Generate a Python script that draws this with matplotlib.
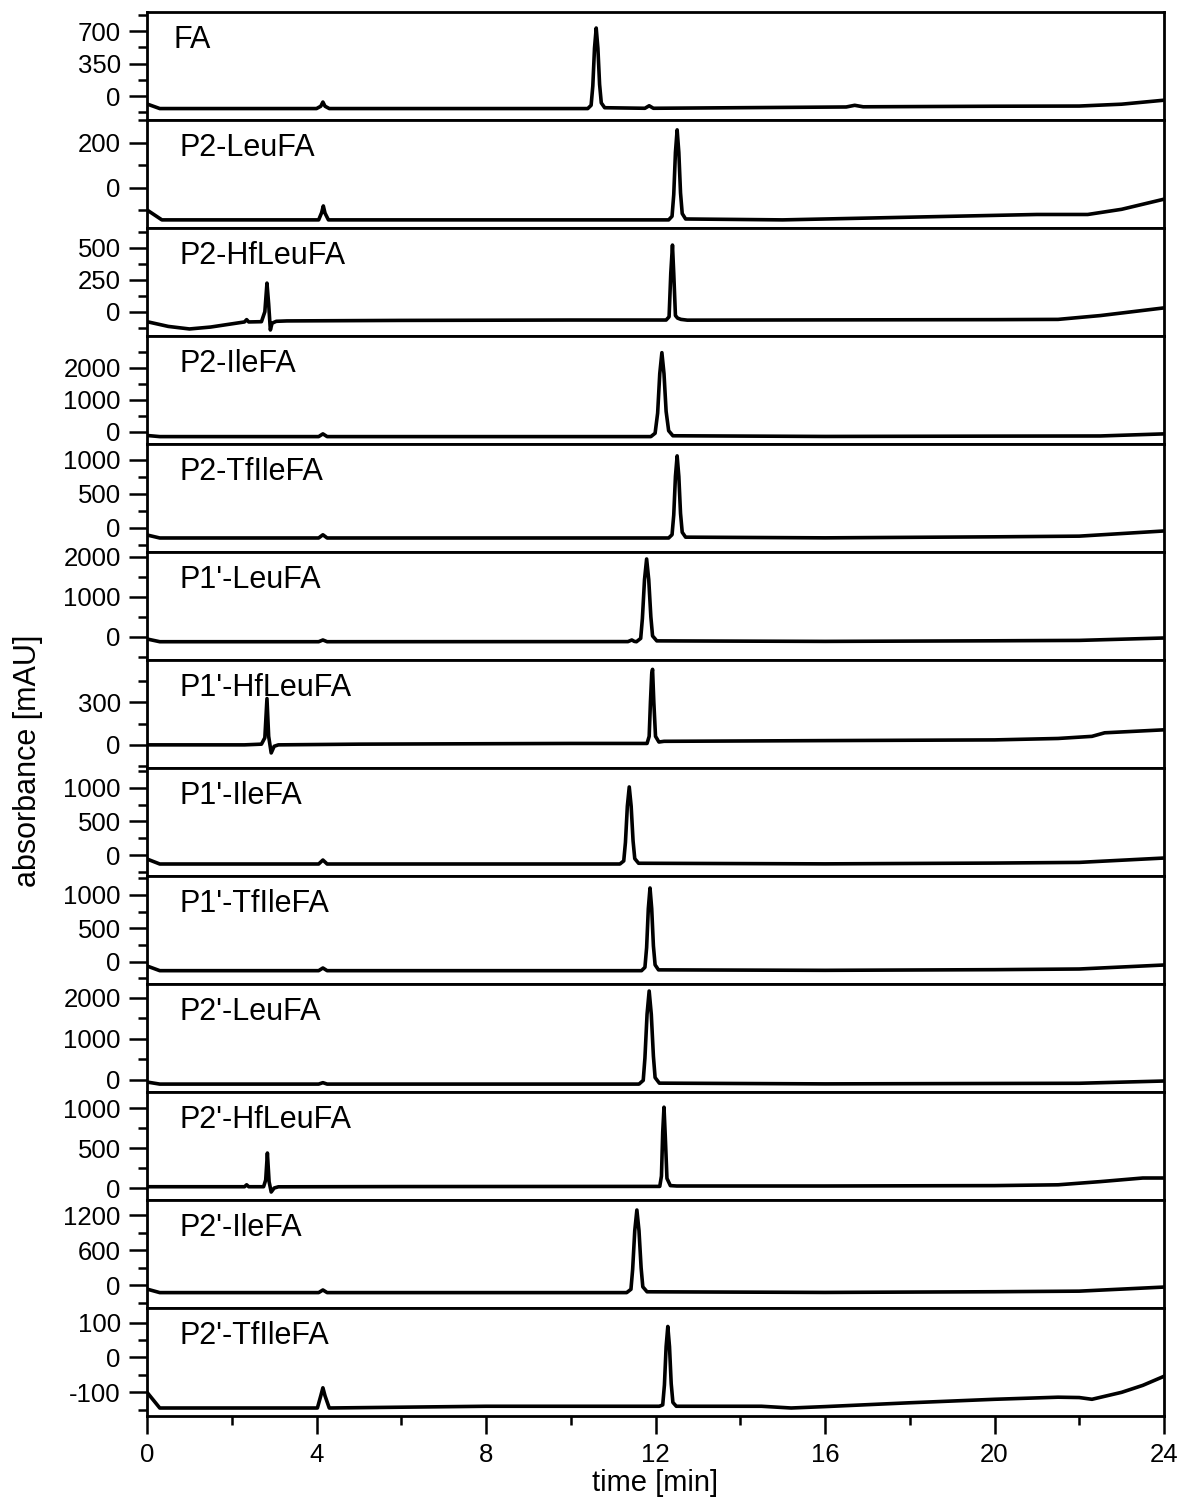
import matplotlib

matplotlib.use("Agg")
import matplotlib.pyplot as plt
from matplotlib.ticker import MultipleLocator

plt.rcParams["font.family"] = ["Liberation Sans", "DejaVu Sans"]
plt.rcParams["axes.unicode_minus"] = False

LABELS = [
    "FA", "P2-LeuFA", "P2-HfLeuFA", "P2-IleFA", "P2-TfIleFA",
    "P1'-LeuFA", "P1'-HfLeuFA", "P1'-IleFA", "P1'-TfIleFA",
    "P2'-LeuFA", "P2'-HfLeuFA", "P2'-IleFA", "P2'-TfIleFA",
]

# time [min] / absorbance [mAU]
FA_T = [0, 0.3, 4.0, 4.1, 4.15, 4.2, 4.3, 10.4, 10.48, 10.52, 10.56, 10.6, 10.64, 10.68,
        10.72, 10.8, 11.75, 11.85, 11.95, 16.5, 16.7, 16.9, 20.0, 22.0, 23.0, 24.0]
FA_A = [-86, -135, -135, -110, -65, -110, -135, -135, -100, 108, 515, 732, 515, 125,
        -74, -126, -132, -105, -132, -118, -100, -116, -110, -108, -88, -45]

LEU_T = [0, 0.35, 4.05, 4.12, 4.16, 4.2, 4.28, 12.31, 12.39, 12.43, 12.47, 12.51, 12.55,
         12.59, 12.63, 12.71, 15.0, 18.0, 21.0, 22.2, 23.0, 24.0]
LEU_A = [-98, -142, -142, -110, -80, -112, -142, -142, -126, -30, 158, 258, 158,
         -22, -114, -138, -142, -130, -118, -118, -95, -50]

HFLEU_T = [0, 0.5, 1.0, 1.5, 2.0, 2.3, 2.35, 2.4, 2.7, 2.78, 2.83, 2.87, 2.91, 2.95, 3.05,
           3.3, 6.0, 10.0, 12.25, 12.32, 12.36, 12.40, 12.43, 12.47, 12.52, 12.6, 12.75,
           16.0, 20.0, 21.5, 22.5, 24.0]
HFLEU_A = [-78, -115, -135, -120, -95, -80, -62, -80, -78, 0, 224, 60, -143, -90, -75,
           -72, -68, -65, -65, -40, 300, 522, 300, -30, -50, -60, -66,
           -64, -62, -60, -30, 30]

ILE_T = [0, 0.3, 4.05, 4.15, 4.25, 11.89, 11.99, 12.05, 12.10, 12.15, 12.20, 12.25,
         12.31, 12.41, 16.0, 20.0, 22.5, 24.0]
ILE_A = [-110, -145, -145, -60, -145, -145, -40, 587, 1816, 2470, 1816, 640,
         38, -119, -140, -130, -125, -60]

TFILE_T = [0, 0.3, 4.05, 4.15, 4.25, 12.31, 12.39, 12.43, 12.47, 12.51, 12.55, 12.59,
           12.63, 12.71, 16.0, 20.0, 22.0, 24.0]
TFILE_A = [-103, -147, -147, -100, -147, -147, -99, 191, 758, 1060, 758, 215,
           -63, -135, -145, -130, -120, -44]

P1_LEU_T = [0, 0.3, 4.05, 4.15, 4.25, 11.35, 11.44, 11.5, 11.55, 11.65, 11.69, 11.74,
            11.79, 11.84, 11.89, 11.93, 12.03, 16.0, 20.0, 22.0, 24.0]
P1_LEU_A = [-50, -118, -118, -75, -118, -115, -75, -110, -118, -35, 461, 1433,
            1950, 1433, 502, 27, -97, -110, -95, -85, -25]

P1_HFLEU_T = [0, 2.3, 2.7, 2.78, 2.83, 2.87, 2.93, 3.0, 3.1, 5.0, 10.0, 11.8, 11.85,
              11.88, 11.91, 11.93, 11.96, 12.0, 12.08, 12.2, 16.0, 20.0, 21.5, 22.3,
              22.6, 24.0]
P1_HFLEU_A = [0, 0, 5, 50, 326, 60, -57, -10, 0, 5, 10, 10, 60,
              300, 500, 532, 300, 60, 20, 25, 30, 35, 45, 60,
              85, 106]

P1_ILE_T = [0, 0.3, 4.05, 4.15, 4.25, 11.16, 11.25, 11.29, 11.335, 11.38, 11.425, 11.47,
            11.51, 11.6, 16.0, 20.0, 22.0, 24.0]
P1_ILE_A = [-60, -134, -134, -75, -134, -134, -88, 188, 728, 1015, 728, 211,
            -54, -123, -132, -120, -110, -45]

P1_TFILE_T = [0, 0.3, 4.05, 4.15, 4.25, 11.67, 11.75, 11.79, 11.83, 11.87, 11.91, 11.95,
              11.99, 12.07, 16.0, 20.0, 22.0, 24.0]
P1_TFILE_A = [-65, -135, -135, -95, -135, -135, -85, 212, 795, 1105, 795, 237,
              -48, -123, -130, -120, -110, -50]

P2_LEU_T = [0, 0.3, 4.05, 4.15, 4.25, 11.61, 11.71, 11.75, 11.80, 11.85, 11.90, 11.95,
            11.99, 12.09, 16.0, 20.0, 22.0, 24.0]
P2_LEU_A = [-50, -100, -100, -65, -100, -100, -9, 536, 1603, 2170, 1603, 581,
            59, -77, -95, -85, -80, -25]

P2_HFLEU_T = [0, 2.3, 2.35, 2.4, 2.75, 2.8, 2.84, 2.88, 2.93, 3.0, 3.1, 6.0, 12.1, 12.14,
              12.17, 12.2, 12.23, 12.27, 12.35, 12.5, 16.0, 20.0, 21.5, 22.5, 23.5, 24.0]
P2_HFLEU_A = [16, 16, 40, 16, 16, 100, 437, 80, -50, 0, 15, 18, 20, 150,
              700, 1010, 650, 120, 30, 25, 25, 30, 40, 80, 125, 125]

P2_ILE_T = [0, 0.3, 4.05, 4.15, 4.25, 11.32, 11.42, 11.46, 11.51, 11.56, 11.61, 11.66,
            11.70, 11.80, 16.0, 20.0, 22.0, 24.0]
P2_ILE_A = [-70, -130, -130, -85, -130, -130, -73, 266, 931, 1285, 931, 295,
            -31, -116, -127, -115, -105, -35]

P2_TFILE_T = [0, 0.3, 4.02, 4.1, 4.15, 4.2, 4.3, 8.0, 12.09, 12.17, 12.21, 12.25, 12.29,
              12.33, 12.37, 12.41, 12.49, 14.5, 15.2, 16.0, 18.0, 20.0, 21.5, 22.0, 22.3,
              23.0, 23.5, 24.0]
P2_TFILE_A = [-100, -145, -145, -110, -87, -110, -145, -140, -140, -136, -79, 31, 89,
              31, -75, -129, -140, -140, -145, -141, -130, -120, -114, -115, -120,
              -100, -80, -54]

TRACES = [
    (FA_T, FA_A), (LEU_T, LEU_A), (HFLEU_T, HFLEU_A), (ILE_T, ILE_A), (TFILE_T, TFILE_A),
    (P1_LEU_T, P1_LEU_A), (P1_HFLEU_T, P1_HFLEU_A), (P1_ILE_T, P1_ILE_A),
    (P1_TFILE_T, P1_TFILE_A), (P2_LEU_T, P2_LEU_A), (P2_HFLEU_T, P2_HFLEU_A),
    (P2_ILE_T, P2_ILE_A), (P2_TFILE_T, P2_TFILE_A),
]

# axis setup per panel
YLIMS = [(-258, 905), (-178, 302), (-190, 656), (-375, 2990), (-353, 1235),
         (-575, 2125), (-163, 598), (-313, 1298), (-335, 1285), (-293, 2341),
         (-150, 1200), (-394, 1457), (-168, 142)]
YSTEPS = [350, 200, 250, 1000, 500, 1000, 300, 500, 500, 1000, 500, 600, 100]

fig, axes = plt.subplots(len(LABELS), 1, sharex=True, figsize=(11.84, 14.97), dpi=100)
fig.subplots_adjust(left=0.1242, right=0.9831, top=0.992, bottom=0.0541, hspace=0)

for i, ax in enumerate(axes):
    t, a = TRACES[i]
    ax.plot(t, a, color="black", linewidth=2.6, solid_joinstyle="round")
    ax.set_ylim(*YLIMS[i])
    ax.yaxis.set_major_locator(MultipleLocator(YSTEPS[i]))
    ax.yaxis.set_minor_locator(MultipleLocator(YSTEPS[i] / 2))
    ax.tick_params(axis="y", which="both", direction="out", width=1.8, pad=6,
                   labelsize=18.5)
    ax.tick_params(axis="y", which="major", length=13)
    ax.tick_params(axis="y", which="minor", length=6.5)
    for side in ax.spines.values():
        side.set_linewidth(2.0)
    xpos = 0.026 if i == 0 else 0.032
    ax.text(xpos, 0.665, LABELS[i], transform=ax.transAxes, fontsize=22,
            va="baseline", ha="left")
    if i < len(axes) - 1:
        ax.tick_params(axis="x", which="both", bottom=False, labelbottom=False)

bottom = axes[-1]
bottom.set_xlim(0, 24)
bottom.xaxis.set_major_locator(MultipleLocator(4))
bottom.xaxis.set_minor_locator(MultipleLocator(2))
bottom.tick_params(axis="x", which="both", direction="out", width=1.8, pad=6.5,
                   labelsize=18.5)
bottom.tick_params(axis="x", which="major", length=13)
bottom.tick_params(axis="x", which="minor", length=6.5)

fig.text(0.0236, 0.492, "absorbance [mAU]", rotation=90, fontsize=22,
         ha="center", va="center")
fig.text(0.553, 0.0003, "time [min]", fontsize=21, ha="center", va="bottom")

fig.savefig("out.png", dpi=100)
